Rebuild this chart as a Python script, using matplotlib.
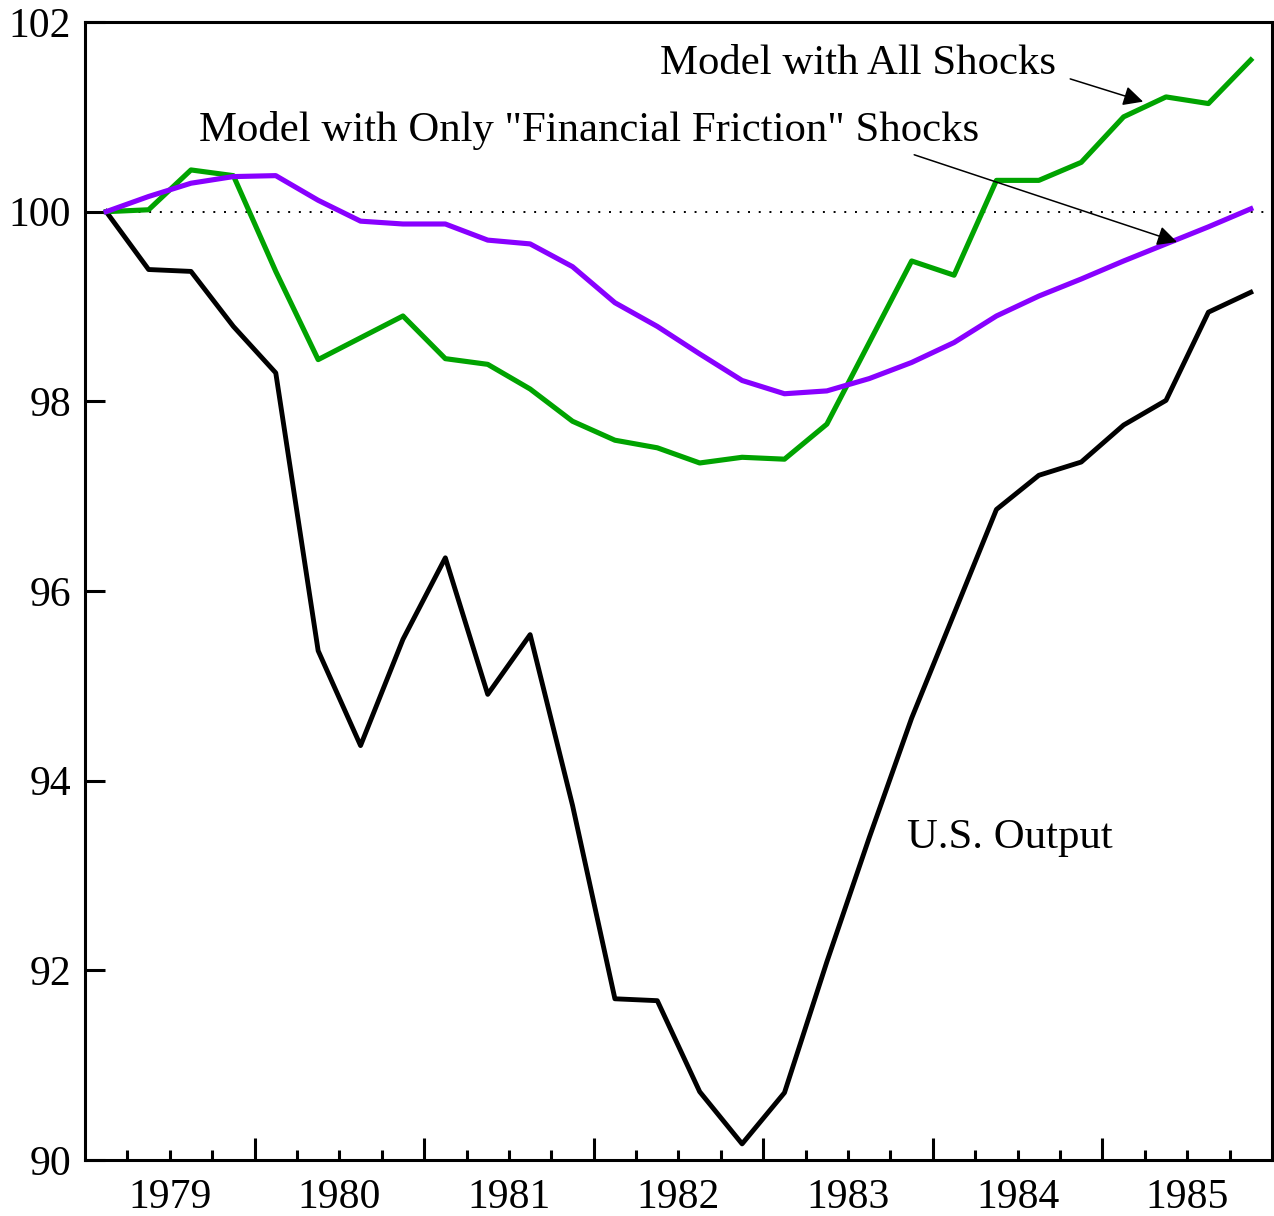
import numpy as np
import matplotlib
matplotlib.use("Agg")
import matplotlib.pyplot as plt
from matplotlib.ticker import FixedLocator, FixedFormatter

plt.rcParams['font.family'] = ['Liberation Serif', 'DejaVu Serif']

# quarterly data, 1979Q1 - 1985Q4 (index, start = 100)
quarters = 1979 + (np.arange(28) + 0.5) / 4

us_output = [100.00, 99.39, 99.37, 98.79, 98.30, 95.37, 94.37, 95.49, 96.35, 94.91,
             95.54, 93.74, 91.70, 91.68, 90.72, 90.17, 90.71, 92.09, 93.40, 94.66,
             95.76, 96.86, 97.22, 97.36, 97.75, 98.01, 98.94, 99.15]

all_shocks = [100.00, 100.02, 100.44, 100.38, 99.37, 98.44, 98.67, 98.90, 98.45, 98.39,
              98.13, 97.79, 97.59, 97.51, 97.35, 97.41, 97.39, 97.76, 98.62, 99.48,
              99.33, 100.33, 100.33, 100.52, 101.00, 101.21, 101.14, 101.60]

fin_friction = [100.00, 100.16, 100.30, 100.37, 100.38, 100.12, 99.90, 99.87, 99.87, 99.70,
                99.66, 99.42, 99.04, 98.79, 98.50, 98.22, 98.08, 98.11, 98.24, 98.41,
                98.62, 98.90, 99.11, 99.29, 99.48, 99.66, 99.84, 100.03]

years = [1979, 1980, 1981, 1982, 1983, 1984, 1985]

fig = plt.figure(figsize=(12.74, 12.16), dpi=100)
ax = fig.add_axes([85 / 1274, 56 / 1216, 1187 / 1274, 1138 / 1216])

ax.axhline(100, color='black', lw=1.4, linestyle=(0, (1, 4.5)), zorder=1)
ax.plot(quarters, us_output, color='black', lw=3.5, zorder=3)
ax.plot(quarters, all_shocks, color='#00a300', lw=3.7, zorder=3)
ax.plot(quarters, fin_friction, color='#8800ff', lw=3.7, zorder=3)

ax.set_xlim(1979, 1986)
ax.set_ylim(90, 102)

# y axis
ax.set_yticks(np.arange(90, 103, 2))
ax.tick_params(axis='y', direction='in', length=14.5, width=2.2, pad=10, labelsize=30)

# x axis: year boundaries as major ticks, quarters as minor, year labels mid-year
ax.xaxis.set_major_locator(FixedLocator(years[1:]))
ax.xaxis.set_major_formatter(FixedFormatter([''] * 6))
minor_pos = [y + q / 4 for y in years for q in (1, 2, 3)]
minor_lab = [str(y) if q == 2 else '' for y in years for q in (1, 2, 3)]
ax.xaxis.set_minor_locator(FixedLocator(minor_pos))
ax.xaxis.set_minor_formatter(FixedFormatter(minor_lab))
ax.tick_params(axis='x', which='major', direction='in', length=16, width=2.2)
ax.tick_params(axis='x', which='minor', direction='in', length=7.5, width=2.2,
               pad=13, labelsize=30)

for s in ax.spines.values():
    s.set_linewidth(2.2)

# annotations
arrow = dict(arrowstyle='-|>', color='black', lw=1.1, mutation_scale=30, shrinkA=0, shrinkB=0)
ax.annotate('', xy=(1985.24, 101.16), xytext=(1984.81, 101.40), arrowprops=arrow)
ax.annotate('', xy=(1985.44, 99.68), xytext=(1983.89, 100.60), arrowprops=arrow)
ax.text(1982.39, 101.56, 'Model with All Shocks', fontsize=30.8, va='center', ha='left')
ax.text(1979.67, 100.86, 'Model with Only "Financial Friction" Shocks', fontsize=30.8,
        va='center', ha='left')
ax.text(1983.85, 93.40, 'U.S. Output', fontsize=30.8, va='center', ha='left')

plt.savefig('out.png', dpi=100)
